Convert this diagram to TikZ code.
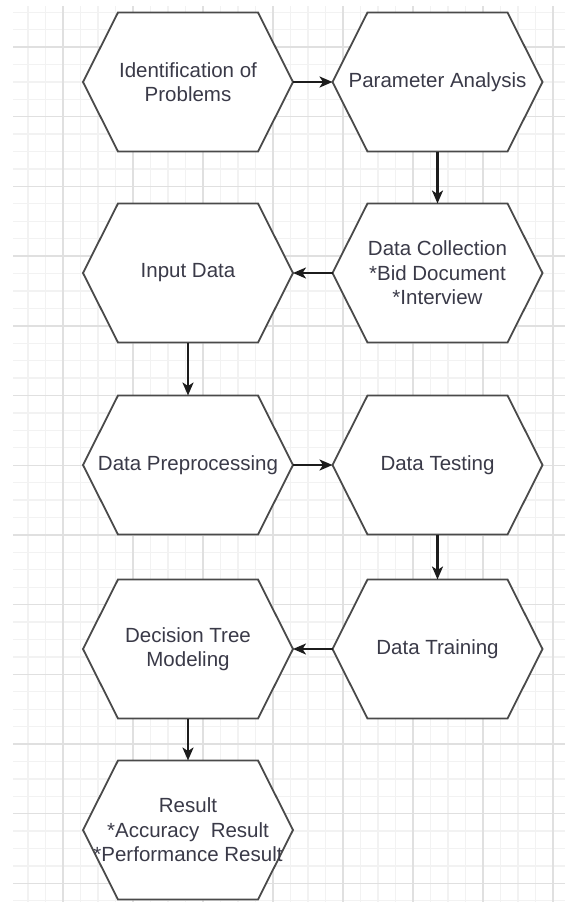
\documentclass[tikz,border=0pt]{standalone}
\usepackage{fontspec}
\setmainfont{Liberation Sans}
\usetikzlibrary{arrows.meta}
\pgfdeclarelayer{gridlayer}
\pgfdeclarelayer{hexlayer}
\pgfsetlayers{gridlayer,hexlayer,main}
\definecolor{gridminor}{HTML}{F2F2F2}
\definecolor{gridmajor}{HTML}{E0E0E0}
\definecolor{hexborder}{HTML}{4A4A4A}
\definecolor{txt}{HTML}{3A3A48}
\definecolor{arr}{HTML}{1C1C1C}
\tikzset{
  hexnode/.style={inner sep=0pt, outer sep=0pt, minimum width=210pt, minimum height=139pt,
    align=center, text=txt, font=\fontsize{20.5}{24.5}\selectfont},
  hexline/.style={draw=hexborder, line width=1.8pt, fill=white, line join=miter},
  flow/.style={draw=arr, line width=2.2pt, -{Stealth[length=13pt,width=11pt,inset=3.5pt]}},
  minorline/.style={draw=gridminor, line width=1.3pt},
  majorline/.style={draw=gridmajor, line width=1.4pt},
}
\newcommand\hexdraw[1]{%
  \begin{pgfonlayer}{hexlayer}
    \draw[hexline] (#1.west) -- ([xshift=35pt]#1.north west) -- ([xshift=-35pt]#1.north east)
      -- (#1.east) -- ([xshift=-35pt]#1.south east) -- ([xshift=35pt]#1.south west) -- cycle;
  \end{pgfonlayer}}
\begin{document}
\begin{tikzpicture}[x=1pt,y=-1pt]
\useasboundingbox (0,0) rectangle (573,908);
\begin{pgfonlayer}{gridlayer}
  \fill[white] (0,0) rectangle (573,908);
  \foreach \i in {1,...,31} { \draw[minorline] ({10.5+17.5*\i},6) -- ({10.5+17.5*\i},902); }
  \foreach \i in {0,...,51} { \draw[minorline] (13,{12.15+17.425*\i}) -- (565,{12.15+17.425*\i}); }
  \foreach \i in {0,...,7} { \draw[majorline] ({63+70*\i},6) -- ({63+70*\i},902); }
  \foreach \i in {0,...,12} { \draw[majorline] (13,{47+69.7*\i}) -- (565,{47+69.7*\i}); }
\end{pgfonlayer}

\node[hexnode] (n1) at (188,82) {Identification of\\Problems};
\node[hexnode] (n2) at (437.5,82) {Parameter Analysis};
\node[hexnode] (n3) at (437.5,273) {Data Collection\\*Bid Document\\*Interview};
\node[hexnode] (n4) at (188,273) {Input Data};
\node[hexnode] (n5) at (188,465) {Data Preprocessing};
\node[hexnode] (n6) at (437.5,465) {Data Testing};
\node[hexnode] (n7) at (437.5,649) {Data Training};
\node[hexnode] (n8) at (188,649) {Decision Tree\\Modeling};
\node[hexnode] (n9) at (188,830) {Result\\*Accuracy\ \ Result\\*Performance Result};

\foreach \n in {n1,n2,n3,n4,n5,n6,n7,n8,n9} { \hexdraw{\n} }

\draw[flow] (n1.east) -- (n2.west);
\draw[flow] (n2.south) -- (n3.north);
\draw[flow] (n3.west) -- (n4.east);
\draw[flow] (n4.south) -- (n5.north);
\draw[flow] (n5.east) -- (n6.west);
\draw[flow] (n6.south) -- (n7.north);
\draw[flow] (n7.west) -- (n8.east);
\draw[flow] (n8.south) -- (n9.north);
\end{tikzpicture}
\end{document}
